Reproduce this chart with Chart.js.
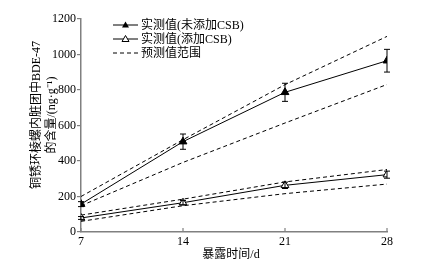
<!DOCTYPE html>
<html>
<head>
<meta charset="utf-8">
<script src="https://cdn.jsdelivr.net/npm/chart.js@4/dist/chart.umd.min.js"></script>
<style>
html,body{margin:0;padding:0;background:#fff;}
#c{display:block;}
</style>
</head>
<body>
<canvas id="c" width="424" height="268"></canvas>
<script>
// ---- data ----
const days = [7, 14, 21, 28];
const measuredNoCSB = [157, 509, 787, 965];
const errNoCSB = [14, 43, 51, 64];
const measuredCSB = [79, 165, 263, 323];
const errCSB = [8, 12, 18, 20];
const predUpperNoCSB = [200, 520, 830, 1102];
const predLowerNoCSB = [148, 392, 614, 831];
const predUpperCSB = [95, 185, 282, 352];
const predLowerCSB = [60, 148, 216, 270];
const yTicks = [0, 200, 400, 600, 800, 1000, 1200];
const legendLabels = ['实测值(未添加CSB)', '实测值(添加CSB)', '预测值范围'];
const yTitle = ['铜锈环棱螺内脏团中BDE-47', '的含量/(ng·g⁻¹)'];
const xTitle = '暴露时间/d';

const FONT = '"Liberation Serif", "Noto Sans CJK SC", serif';
const toXY = (vals) => vals.map((v, i) => ({x: days[i], y: v}));

const dashed = (vals) => ({
  data: toXY(vals), borderColor: '#000', borderWidth: 1, borderDash: [4, 3],
  pointRadius: 0, fill: false, tension: 0
});

const errorBars = {
  id: 'errorBars',
  afterDatasetsDraw(chart) {
    const {ctx, scales: {x, y}} = chart;
    ctx.save();
    ctx.strokeStyle = '#000';
    ctx.lineWidth = 1;
    [[measuredNoCSB, errNoCSB], [measuredCSB, errCSB]].forEach(([vals, errs]) => {
      vals.forEach((v, i) => {
        const px = x.getPixelForValue(days[i]);
        const top = y.getPixelForValue(v + errs[i]);
        const bot = y.getPixelForValue(v - errs[i]);
        ctx.beginPath();
        ctx.moveTo(px, top); ctx.lineTo(px, bot);
        ctx.moveTo(px - 3, top); ctx.lineTo(px + 3, top);
        ctx.moveTo(px - 3, bot); ctx.lineTo(px + 3, bot);
        ctx.stroke();
      });
    });
    ctx.restore();
  }
};

const decorations = {
  id: 'decorations',
  afterDraw(chart) {
    const {ctx, scales: {x, y}, chartArea} = chart;
    ctx.save();
    // inward x ticks
    ctx.strokeStyle = '#808080';
    ctx.lineWidth = 1.2;
    days.forEach(d => {
      const px = x.getPixelForValue(d);
      ctx.beginPath();
      ctx.moveTo(px, chartArea.bottom);
      ctx.lineTo(px, chartArea.bottom - 4);
      ctx.stroke();
    });
    // legend
    ctx.fillStyle = '#000';
    ctx.strokeStyle = '#000';
    ctx.lineWidth = 1;
    ctx.font = '12px ' + FONT;
    ctx.textBaseline = 'middle';
    ctx.textAlign = 'left';
    const rows = [25, 39, 53];
    const x0 = 113, x1 = 138, xm = 125.5;
    rows.forEach((ry, i) => {
      ctx.beginPath();
      ctx.setLineDash(i === 2 ? [4, 3] : []);
      ctx.moveTo(x0, ry); ctx.lineTo(x1, ry);
      ctx.stroke();
      ctx.setLineDash([]);
      if (i < 2) {
        ctx.beginPath();
        ctx.moveTo(xm, ry - 3.5);
        ctx.lineTo(xm + 3.5, ry + 2.5);
        ctx.lineTo(xm - 3.5, ry + 2.5);
        ctx.closePath();
        if (i === 0) { ctx.fillStyle = '#000'; ctx.fill(); }
        else { ctx.fillStyle = '#fff'; ctx.fill(); ctx.stroke(); }
        ctx.fillStyle = '#000';
      }
      ctx.fillText(legendLabels[i], 141, ry + 0.5);
    });
    // y title
    ctx.save();
    ctx.translate(37, 115);
    ctx.rotate(-Math.PI / 2);
    ctx.textAlign = 'center';
    ctx.fillText(yTitle[0], 0, 0);
    ctx.fillText(yTitle[1], 0, 15);
    ctx.restore();
    // x title
    ctx.textAlign = 'center';
    ctx.fillText(xTitle, 231, 255);
    ctx.restore();
  }
};

new Chart(document.getElementById('c'), {
  type: 'line',
  data: {
    datasets: [
      {
        data: toXY(measuredNoCSB), borderColor: '#000', borderWidth: 1,
        pointStyle: 'triangle', pointRadius: 4.5, pointBackgroundColor: '#000',
        pointBorderColor: '#000', fill: false, tension: 0
      },
      {
        data: toXY(measuredCSB), borderColor: '#000', borderWidth: 1,
        pointStyle: 'triangle', pointRadius: 4.5, pointBackgroundColor: '#fff',
        pointBorderColor: '#000', pointBorderWidth: 1, fill: false, tension: 0
      },
      dashed(predUpperNoCSB),
      dashed(predLowerNoCSB),
      dashed(predUpperCSB),
      dashed(predLowerCSB)
    ]
  },
  options: {
    responsive: false,
    devicePixelRatio: 1,
    animation: false,
    layout: {padding: {left: 0, right: 37, top: 19, bottom: 0}},
    plugins: {legend: {display: false}, tooltip: {enabled: false}},
    scales: {
      x: {
        type: 'linear', min: 7, max: 28,
        afterBuildTicks(s) { s.ticks = days.map(v => ({value: v})); },
        afterFit(s) { s.height = 36; },
        grid: {display: false, drawTicks: false},
        border: {display: true, color: '#808080', width: 1.5},
        ticks: {color: '#000', font: {family: FONT, size: 12}, padding: 3, maxRotation: 0,
                callback: (v) => String(v)}
      },
      y: {
        min: 0, max: 1200,
        afterBuildTicks(s) { s.ticks = yTicks.map(v => ({value: v})); },
        afterFit(s) { s.width = 81; },
        grid: {drawOnChartArea: false, drawTicks: true, tickLength: 4, color: '#808080', lineWidth: 1.2},
        border: {display: true, color: '#808080', width: 1.5},
        ticks: {color: '#000', font: {family: FONT, size: 12}, padding: 1,
                callback: (v) => String(v)}
      }
    }
  },
  plugins: [errorBars, decorations]
});
</script>
</body>
</html>
